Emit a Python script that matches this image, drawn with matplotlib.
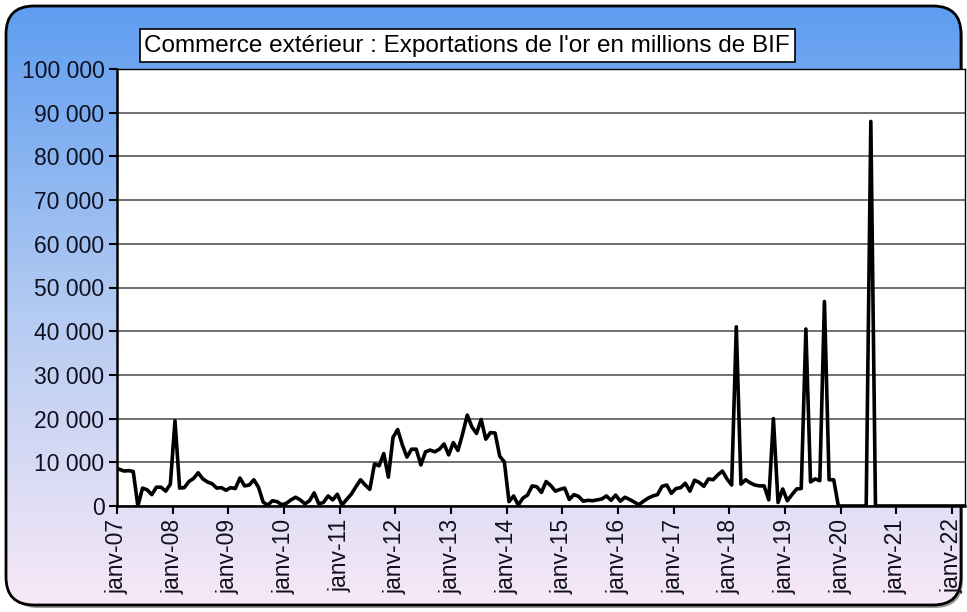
import numpy as np
import matplotlib.pyplot as plt
from matplotlib.patches import FancyBboxPatch, Rectangle

# exportations mensuelles d'or, en milliers de millions de BIF (janv. 2007 -> mars 2022)
exports_2007 = [8.4, 8.0, 8.1, 7.9, 0.0, 4.1, 3.7, 2.6, 4.3, 4.3, 3.4, 5.0]
exports_2008 = [19.5, 4.1, 4.2, 5.6, 6.3, 7.6, 6.2, 5.5, 5.1, 4.1, 4.2, 3.6]
exports_2009 = [4.2, 4.0, 6.4, 4.6, 4.8, 6.0, 4.3, 0.9, 0.2, 1.2, 1.0, 0.3]
exports_2010 = [0.6, 1.4, 2.0, 1.4, 0.5, 1.2, 3.0, 0.5, 0.8, 2.3, 1.4, 2.7]
exports_2011 = [0.2, 1.5, 2.7, 4.4, 6.0, 4.8, 3.8, 9.6, 9.2, 12.0, 6.6, 15.7]
exports_2012 = [17.5, 14.0, 11.2, 13.0, 13.0, 9.4, 12.4, 12.8, 12.4, 13.0, 14.2, 11.7]
exports_2013 = [14.5, 12.7, 16.5, 20.8, 18.1, 16.6, 19.8, 15.3, 16.8, 16.7, 11.4, 10.1]
exports_2014 = [1.0, 2.3, 0.2, 1.8, 2.5, 4.6, 4.4, 3.1, 5.6, 4.7, 3.4, 3.8]
exports_2015 = [4.1, 1.5, 2.6, 2.2, 1.1, 1.3, 1.2, 1.4, 1.6, 2.3, 1.3, 2.5]
exports_2016 = [1.1, 2.0, 1.5, 0.9, 0.3, 1.1, 1.8, 2.3, 2.6, 4.5, 4.8, 2.9]
exports_2017 = [4.0, 4.2, 5.2, 3.4, 5.9, 5.4, 4.5, 6.2, 6.0, 7.1, 8.0, 6.2]
exports_2018 = [4.8, 41.0, 5.0, 6.0, 5.3, 4.8, 4.6, 4.6, 1.4, 20.0, 0.8, 3.9]
exports_2019 = [1.2, 2.6, 3.9, 4.0, 40.5, 5.5, 6.2, 5.8, 46.8, 6.0, 6.0, 0.0]
exports_2020 = [0.0, 0.0, 0.0, 0.0, 0.0, 0.0, 88.0, 0.0, 0.0, 0.0, 0.0, 0.0]
exports_2021 = [0.0] * 12
exports_2022 = [0.0, 0.0, 0.0]

years = list(range(2007, 2023))
tick_labels = ["janv-%02d" % (y % 100) for y in years]
title = "Commerce extérieur : Exportations de l'or en millions de BIF"

values = np.array(exports_2007 + exports_2008 + exports_2009 + exports_2010
                  + exports_2011 + exports_2012 + exports_2013 + exports_2014
                  + exports_2015 + exports_2016 + exports_2017 + exports_2018
                  + exports_2019 + exports_2020 + exports_2021 + exports_2022) * 1000
months = np.arange(len(values)) + 0.5  # valeurs au milieu du mois

plt.rcParams['font.family'] = ['Liberation Sans', 'DejaVu Sans']

W, H = 967, 612
fig = plt.figure(figsize=(W / 100, H / 100), dpi=100)
fig.patch.set_facecolor('white')

# fond : cadre arrondi avec dégradé bleu -> rose
bg = fig.add_axes([0, 0, 1, 1])
bg.set_xlim(0, W)
bg.set_ylim(H, 0)
bg.axis('off')

shadow = FancyBboxPatch((10, 10), W - 14, H - 14,
                        boxstyle="round,pad=0,rounding_size=28",
                        fc='#555555', ec='none', alpha=0.6)
bg.add_patch(shadow)

frame = FancyBboxPatch((6, 6), W - 12, H - 13,
                       boxstyle="round,pad=0,rounding_size=28",
                       fc='none', ec='black', lw=2)
bg.add_patch(frame)

t = np.linspace(0, 1, H)
stops = [0, 0.5, 1]
r = np.interp(t, stops, [92, 178, 250]) / 255
g = np.interp(t, stops, [156, 202, 233]) / 255
b = np.interp(t, stops, [240, 242, 247]) / 255
grad = np.dstack([r, g, b]).reshape(H, 1, 3)
img = bg.imshow(grad, extent=[0, W, H, 0], aspect='auto', zorder=1)
img.set_clip_path(frame)
frame.set_zorder(2)

# boîte du titre
bg.add_patch(Rectangle((140, 29), 655, 33, fc='white', ec='black', lw=1.2, zorder=3))
bg.text(467, 46, title, ha='center', va='center', fontsize=17.5, color='black', zorder=4)

# zone de tracé
ax = fig.add_axes([117 / W, 1 - 506 / H, (965 - 117) / W, (506 - 69) / H])
ax.set_facecolor('white')
ax.plot(months, values, color='black', lw=2.6, zorder=3)

ax.set_xlim(0, 182.8)
ax.set_ylim(0, 100000)
ax.set_yticks(np.arange(0, 100001, 10000))
ax.set_yticklabels([f"{v:,}".replace(",", " ") for v in range(0, 100001, 10000)])
ax.set_xticks(np.arange(0, 181, 12))
ax.set_xticklabels(tick_labels, rotation=90)

ax.yaxis.grid(True, color='#707070', lw=1.4)
ax.set_axisbelow(True)
ax.tick_params(axis='both', direction='out', length=6, width=1.5, pad=3,
               labelsize=16.5, labelcolor='#10101e')
for side in ['left', 'bottom']:
    ax.spines[side].set_linewidth(1.8)
for side in ['top', 'right']:
    ax.spines[side].set_linewidth(1.0)

fig.savefig('out.png', dpi=100)
